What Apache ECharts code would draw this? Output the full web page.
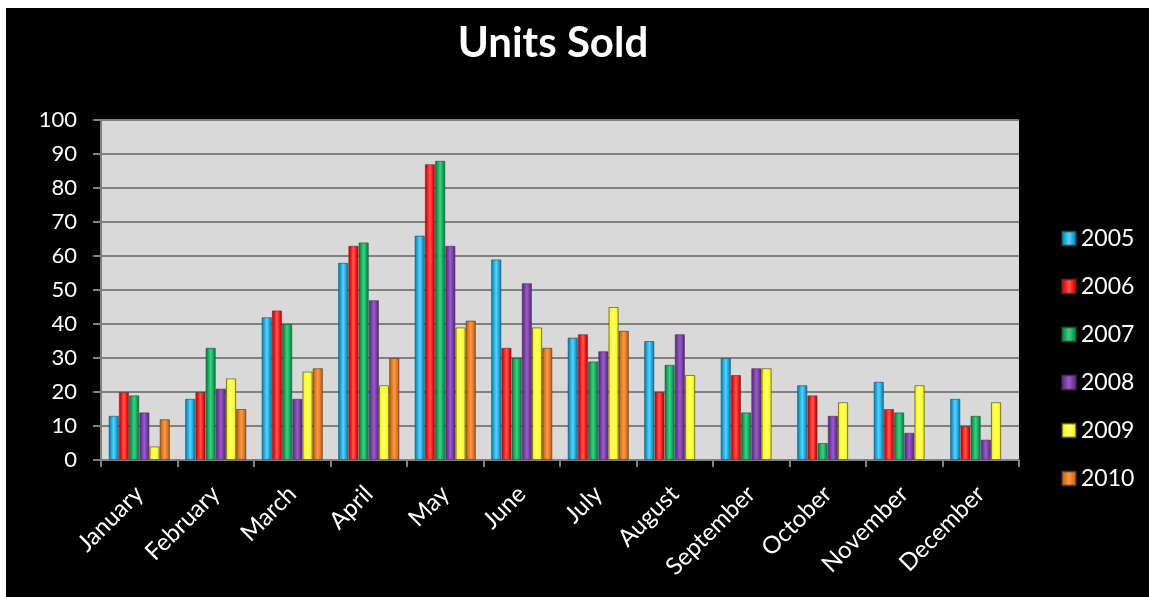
<!DOCTYPE html>
<html>
<head>
<meta charset="utf-8">
<script src="https://cdn.jsdelivr.net/npm/echarts@6/dist/echarts.min.js"></script>
<style>
html,body{margin:0;padding:0;background:#fff;width:1149px;height:597px;overflow:hidden;}
#chart{position:absolute;left:6px;top:8px;width:1143px;height:589px;}
</style>
</head>
<body>
<div id="chart"></div>
<script>
const months = ['January','February','March','April','May','June','July','August','September','October','November','December'];
const years = ['2005','2006','2007','2008','2009','2010'];
const s2005 = [13,18,42,58,66,59,36,35,30,22,23,18];
const s2006 = [20,20,44,63,87,33,37,20,25,19,15,10];
const s2007 = [19,33,40,64,88,30,29,28,14,5,14,13];
const s2008 = [14,21,18,47,63,52,32,37,27,13,8,6];
const s2009 = [4,24,26,22,39,39,45,25,27,17,22,17];
const s2010 = [12,15,27,30,41,33,38,null,null,null,null,null];
const yTicks = [0,10,20,30,40,50,60,70,80,90,100];

const seriesData = [s2005,s2006,s2007,s2008,s2009,s2010];
const colors = [
  ['#5fd0f5','#00a0dc','#0077a8'],
  ['#ff5a5a','#ff0000','#b80000'],
  ['#3fd080','#00a050','#00703a'],
  ['#9a5cc8','#7030a0','#4e1f72'],
  ['#ffff80','#ffff00','#c8c800'],
  ['#f59a50','#e36c0a','#a84d05']
];
function grad(c){
  return new echarts.graphic.LinearGradient(0,0,1,0,[
    {offset:0,color:c[2]},{offset:0.18,color:c[1]},{offset:0.5,color:c[0]},{offset:0.82,color:c[1]},{offset:1,color:c[2]}
  ]);
}
const chart = echarts.init(document.getElementById('chart'));
const font = 'Lato, "Open Sans", sans-serif';
chart.setOption({
  backgroundColor:'#000',
  animation:false,
  graphic:[{
    type:'text',x:547,y:35,
    style:{text:'Units Sold',fill:'#fff',font:'bold 42px Lato, "Open Sans", sans-serif',align:'center',verticalAlign:'middle'}
  }],
  grid:{left:95,right:130,top:112,bottom:137,show:true,backgroundColor:'#d9d9d9',borderWidth:0},
  legend:{
    orient:'vertical',left:1050,top:214,itemWidth:14,itemHeight:14,itemGap:25,
    icon:'rect',
    textStyle:{color:'#fff',fontSize:23,fontFamily:font},
    data:years
  },
  xAxis:{
    type:'category',data:months,
    axisLine:{lineStyle:{color:'#808080',width:2}},
    axisTick:{show:true,length:7,lineStyle:{color:'#808080',width:2}},
    axisLabel:{color:'#fff',fontSize:24,rotate:45,margin:30,fontFamily:font,interval:0},
    splitLine:{show:false}
  },
  yAxis:{
    type:'value',min:yTicks[0],max:yTicks[yTicks.length-1],interval:10,
    axisLine:{show:true,lineStyle:{color:'#808080',width:2}},
    axisTick:{show:true,length:8,lineStyle:{color:'#808080',width:2}},
    axisLabel:{color:'#fff',fontSize:22,margin:24,fontFamily:font},
    splitLine:{lineStyle:{color:'#808080',width:2}}
  },
  series:years.map((y,i)=>({
    name:y,type:'bar',data:seriesData[i],
    barGap:'0%',barCategoryGap:'20%',
    itemStyle:{color:grad(colors[i]),borderColor:'rgba(60,60,60,0.6)',borderWidth:1}
  }))
});
</script>
</body>
</html>
